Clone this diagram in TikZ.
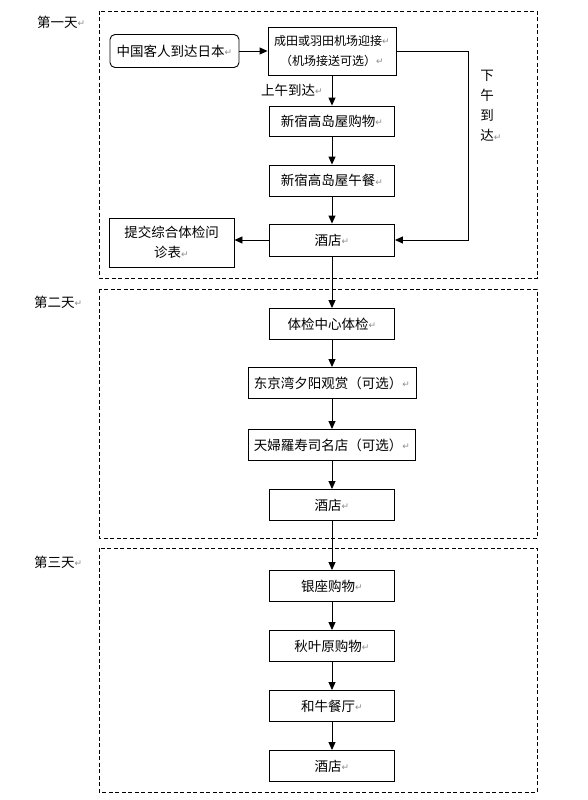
\documentclass[tikz,border=0pt]{standalone}
\usepackage{fontspec}
\newfontfamily\cjk{Noto Sans CJK SC}
\newfontfamily\djv{DejaVu Sans}
\usetikzlibrary{arrows.meta}
\newcommand\ret{{\fontsize{9}{9}\djv\color{black!45}\raisebox{0.5pt}{↵}}}
\tikzset{
 stepbox/.style={draw, line width=0.9pt, minimum height=31pt, minimum width=125pt, inner sep=0pt, font=\fontsize{13.5}{20}\selectfont\cjk, align=center},
 daybox/.style={draw, line width=0.9pt, dash pattern=on 4pt off 2.5pt},
 arr/.style={line width=0.9pt, -{Triangle[length=8pt,width=7pt]}},
 lbl/.style={font=\fontsize{13.5}{20}\selectfont\cjk, inner sep=0pt}
}
\begin{document}
\begin{tikzpicture}[x=1pt,y=-1pt]
\useasboundingbox[fill=white] (0,0) rectangle (587,800);
% day frames
\draw[daybox] (99,11) rectangle (537,278);
\draw[daybox] (99,289) rectangle (537,538);
\draw[daybox] (99,548) rectangle (537,792);
% day labels
\node[lbl, anchor=west] (d1) at (37,22) {第一天\ret};
\node[lbl, anchor=west] (d2) at (34,302) {第二天\ret};
\node[lbl, anchor=west] (d3) at (34,562) {第三天\ret};
% day 1
\node[stepbox, rounded corners=5pt, minimum width=129pt, minimum height=33pt] (start) at (174.5,51) {中国客人到达日本\ret};
\node[stepbox, minimum width=128pt, minimum height=48pt, font=\fontsize{12}{20}\selectfont\cjk] (air) at (332,51) {成田或羽田机场迎接\ret\\（机场接送可选）\ret};
\node[stepbox, minimum height=30pt] (shop1) at (332,121) {新宿高岛屋购物\ret};
\node[stepbox] (lunch) at (332,180.5) {新宿高岛屋午餐\ret};
\node[stepbox, minimum height=32pt] (hotel1) at (332,240) {酒店\ret};
\node[stepbox, minimum height=49pt] (form) at (171.5,242.5) {提交综合体检问\\诊表\ret};
\node[lbl] (am) at (292,90) {上午到达\ret};
\node[lbl, align=center] (pm) at (487,106) {下\\午\\到\\达\rlap{\ret}};
\coordinate (rc) at (468,51);
\draw[arr] (start) -- (air);
\draw[arr] (air) -- (shop1);
\draw[arr] (shop1) -- (lunch);
\draw[arr] (lunch) -- (hotel1);
\draw[line width=0.9pt] (air.east) -- (rc);
\draw[arr] (rc) |- (hotel1.east);
\draw[arr] (hotel1.west) -- (form.east |- hotel1.west);
% day 2
\node[stepbox] (check) at (332,324) {体检中心体检\ret};
\node[stepbox, minimum width=168pt] (sunset) at (332,383) {东京湾夕阳观赏（可选）\ret};
\node[stepbox, minimum width=167pt] (tempura) at (332,445) {天婦羅寿司名店（可选）\ret};
\node[stepbox] (hotel2) at (332,505) {酒店\ret};
\draw[arr] (hotel1) -- (check);
\draw[arr] (check) -- (sunset);
\draw[arr] (sunset) -- (tempura);
\draw[arr] (tempura) -- (hotel2);
% day 3
\node[stepbox] (ginza) at (332,586) {银座购物\ret};
\node[stepbox] (akiba) at (332,646) {秋叶原购物\ret};
\node[stepbox] (wagyu) at (332,706) {和牛餐厅\ret};
\node[stepbox] (hotel3) at (332,766) {酒店\ret};
\draw[arr] (hotel2) -- (ginza);
\draw[arr] (ginza) -- (akiba);
\draw[arr] (akiba) -- (wagyu);
\draw[arr] (wagyu) -- (hotel3);
\end{tikzpicture}
\end{document}
